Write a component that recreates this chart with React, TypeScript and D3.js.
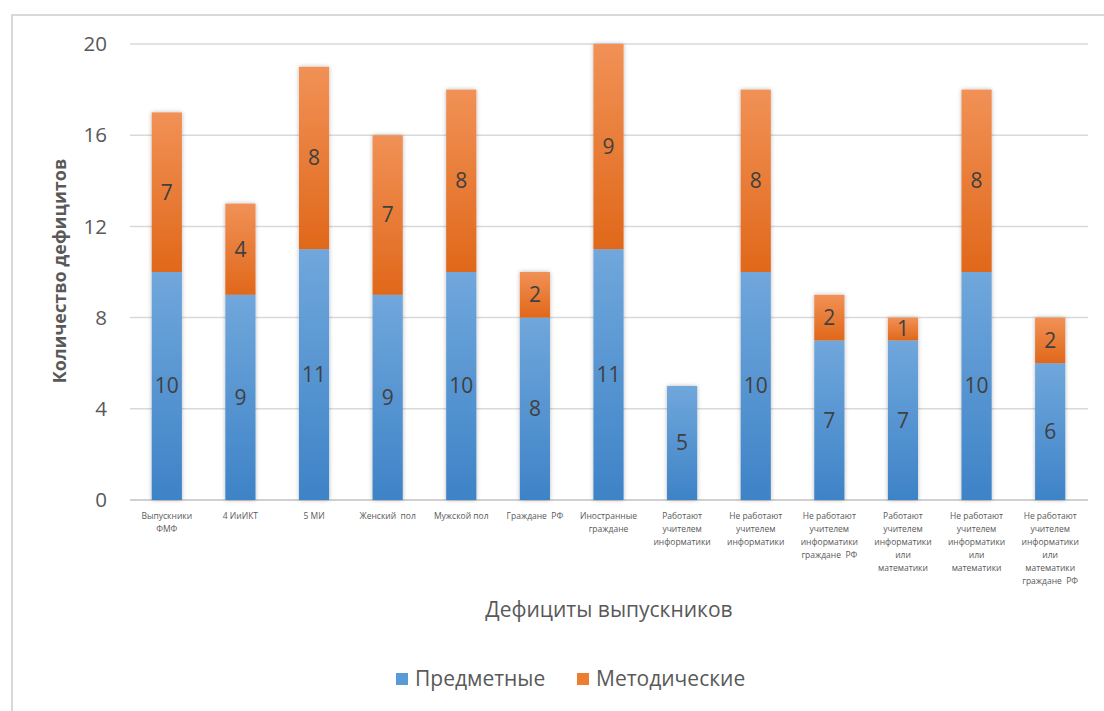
import React from "react";
import * as d3 from "d3";

const categories: string[][] = [
  ["Выпускники", "ФМФ"],
  ["4 ИиИКТ"],
  ["5 МИ"],
  ["Женский  пол"],
  ["Мужской пол"],
  ["Граждане  РФ"],
  ["Иностранные", "граждане"],
  ["Работают", "учителем", "информатики"],
  ["Не работают", "учителем", "информатики"],
  ["Не работают", "учителем", "информатики", "граждане  РФ"],
  ["Работают", "учителем", "информатики", "или", "математики"],
  ["Не работают", "учителем", "информатики", "или", "математики"],
  ["Не работают", "учителем", "информатики", "или", "математики", "граждане  РФ"],
];
const subjectValues: number[] = [10, 9, 11, 9, 10, 8, 11, 5, 10, 7, 7, 10, 6];
const methodValues: number[] = [7, 4, 8, 7, 8, 2, 9, 0, 8, 2, 1, 8, 2];
const yTicks: number[] = [0, 4, 8, 12, 16, 20];
const seriesNames: string[] = ["Предметные", "Методические"];

const W = 1104;
const H = 711;
const FONT = "'Open Sans', 'Noto Sans', sans-serif";

export default function App() {
  const x = d3
    .scaleBand<number>()
    .domain(d3.range(categories.length))
    .range([130, 1087])
    .paddingInner(0.59)
    .paddingOuter(0.295);
  const y = d3.scaleLinear().domain([0, 20]).range([500, 44]);

  const rows = categories.map((c, i) => ({ i, s: subjectValues[i], m: methodValues[i] }));

  return (
    <svg
      width={W}
      height={H}
      style={{ position: "absolute", left: 0, top: 0, background: "#fff" }}
      fontFamily={FONT}
    >
      <defs>
        <linearGradient id="gBlue" x1="0" y1="0" x2="0" y2="1">
          <stop offset="0" stopColor="#70a7dc" />
          <stop offset="1" stopColor="#3e83c7" />
        </linearGradient>
        <linearGradient id="gOrange" x1="0" y1="0" x2="0" y2="1">
          <stop offset="0" stopColor="#f19156" />
          <stop offset="1" stopColor="#e0681a" />
        </linearGradient>
        <filter id="shadow" x="-30%" y="-10%" width="160%" height="120%">
          <feDropShadow dx="0" dy="0" stdDeviation="2" floodColor="#000" floodOpacity="0.28" />
        </filter>
      </defs>

      {/* chart area frame */}
      <rect x={12} y={15} width={1110} height={720} fill="none" stroke="#d9d9d9" strokeWidth={2} />

      {/* grid lines and y tick labels */}
      {yTicks.map((t) => (
        <g key={t}>
          <line
            x1={130}
            x2={1088}
            y1={y(t)}
            y2={y(t)}
            stroke={t === 0 ? "#d0d0d0" : "#d9d9d9"}
            strokeWidth={t === 0 ? 2 : 1.5}
          />
          <text
            x={107}
            y={y(t)}
            dy="0.35em"
            textAnchor="end"
            fontSize={20.5}
            fill="#595959"
          >
            {t}
          </text>
        </g>
      ))}

      {/* stacked bars */}
      {rows.map((r) => {
        const bx = x(r.i)!;
        const bw = x.bandwidth();
        const yS = y(r.s);
        const yM = y(r.s + r.m);
        return (
          <g key={r.i}>
            <g filter="url(#shadow)">
              <rect x={bx} y={yS} width={bw} height={y(0) - yS} fill="url(#gBlue)" />
              {r.m > 0 && (
                <rect x={bx} y={yM} width={bw} height={yS - yM} fill="url(#gOrange)" />
              )}
            </g>
            <text
              x={bx + bw / 2}
              y={(y(0) + yS) / 2}
              dy="0.35em"
              textAnchor="middle"
              fontSize={21}
              fill="#404040"
            >
              {r.s}
            </text>
            {r.m > 0 && (
              <text
                x={bx + bw / 2}
                y={(yS + yM) / 2}
                dy="0.35em"
                textAnchor="middle"
                fontSize={21}
                fill="#404040"
              >
                {r.m}
              </text>
            )}
          </g>
        );
      })}

      {/* category labels */}
      {categories.map((lines, i) => (
        <text
          key={i}
          x={x(i)! + x.bandwidth() / 2}
          y={519}
          textAnchor="middle"
          fontSize={8.5}
          fill="#595959"
        >
          {lines.map((ln, k) => (
            <tspan key={k} x={x(i)! + x.bandwidth() / 2} dy={k === 0 ? 0 : 13} style={{ whiteSpace: "pre" }}>
              {ln}
            </tspan>
          ))}
        </text>
      ))}

      {/* axis titles */}
      <text x={609} y={617} textAnchor="middle" fontSize={21} fill="#595959">
        Дефициты выпускников
      </text>
      <text
        transform="translate(66,271) rotate(-90)"
        textAnchor="middle"
        fontSize={18}
        fontWeight="bold"
        fill="#595959"
      >
        Количество дефицитов
      </text>

      {/* legend */}
      {seriesNames.map((name, k) => {
        const lx = k === 0 ? 396 : 577;
        return (
          <g key={name}>
            <rect x={lx} y={673} width={12} height={12} fill={k === 0 ? "#5b9bd5" : "#ed7d31"} />
            <text x={lx + 19} y={679} dy="0.35em" fontSize={21} fill="#595959">
              {name}
            </text>
          </g>
        );
      })}
    </svg>
  );
}
